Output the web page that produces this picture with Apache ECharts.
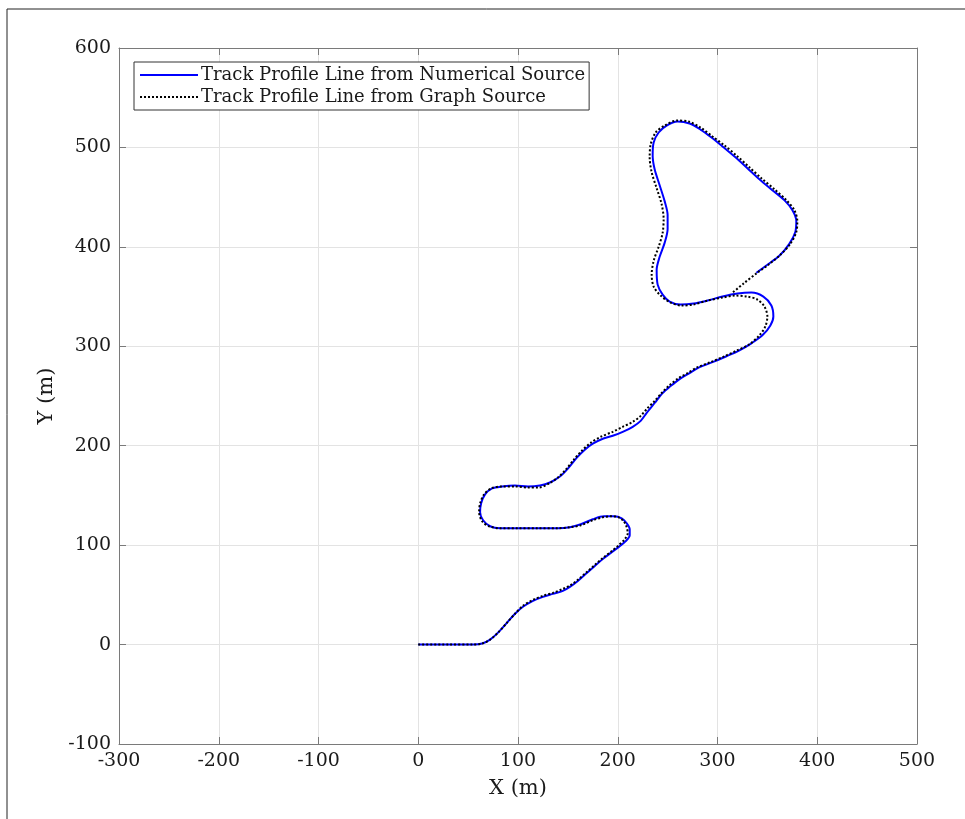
<!DOCTYPE html>
<html>
<head>
<meta charset="utf-8">
<script src="https://cdn.jsdelivr.net/npm/echarts@6/dist/echarts.min.js"></script>
<style>
  html, body { margin: 0; padding: 0; background: #fff; }
  #chart { width: 965px; height: 819px; }
</style>
</head>
<body>
<div id="chart"></div>
<script>
// track from numerical source (x, y in metres)
var numX = [0,30,55,64,72,80,89,97,105,115,125,135,145,152,160,169,177,185,194,202,208,212,212,209,204,196,186,175,163,152,140,120,100,82,72,65,62,63,67,74,84,97,110,122,132,142,150,159,167,175,185,195,205,215,223,229,237,245,253,262,272,282,295,309,322,334,345,353,356,354,346,334,320,305,290,276,263,252,245,240,239,242,247,250,250,247,242,237,235,236,241,249,260,272,283,294,305,318,330,342,355,367,375,379,378,372,362,350,339];
var numY = [0,0,0,1,5,12,22,31,38,44,48,51,54,58,64,72,79,86,93,99,104,110,116,122,127,129,129,126,121,118,117,117,117,117,119,125,133,142,151,157,159,160,159,160,163,169,177,188,196,202,207,210,214,219,225,233,243,253,260,267,273,279,284,290,296,303,311,321,330,341,350,354,353,350,346,343,342,345,352,362,377,390,404,418,432,446,462,478,492,505,515,522,526,524,518,510,501,490,479,468,457,447,437,426,415,403,391,382,374];

// track from graph source
var grfX = [0,30,55,64,72,80,89,97,105,115,125,135,145,153,161,169,177,185,194,201,207,210,209,206,201,194,185,175,163,152,140,120,100,82,71,64,61,62,66,73,84,97,110,121,131,140,148,156,164,173,183,195,205,215,223,230,237,244,252,261,270,280,293,307,320,332,342,348,350,347,340,330,318,305,290,276,264,253,243,236,234,236,241,245,246,244,239,234,232,233,238,247,259,271,283,295,307,320,332,344,357,369,377,380,379,373,363,351,340,326,314];
var grfY = [0,0,0,1,5,12,22,31,39,45,49,52,56,60,66,73,80,87,94,100,106,112,118,124,128,129,128,125,120,118,117,117,117,117,119,124,133,142,151,157,159,159,158,158,162,168,176,186,195,203,209,214,219,224,230,238,245,253,261,268,273,279,284,290,296,302,311,320,330,340,347,350,351,349,346,342,341,344,351,360,372,386,400,414,428,443,459,475,490,503,515,522,527,526,520,511,502,491,480,469,458,447,437,426,415,403,392,382,374,363,353];

var xTicks = [-300, 500, 100];   // min, max, step
var yTicks = [-100, 600, 100];

var seriesNames = ['Track Profile Line from Numerical Source', 'Track Profile Line from Graph Source'];

function pairs(xs, ys) {
    var out = [];
    for (var i = 0; i < xs.length; i++) out.push([xs[i], ys[i]]);
    return out;
}

var font = 'DejaVu Serif';
var axisCol = '#7a7a7a';

function makeAxis(ticks, pos, showLabels, name) {
    return {
        type: 'value',
        position: pos,
        min: ticks[0], max: ticks[1], interval: ticks[2],
        name: name || '',
        nameLocation: 'middle',
        nameGap: pos === 'bottom' ? 34 : 61,
        nameTextStyle: { fontFamily: font, fontSize: 21, color: '#1a1a1a' },
        axisLine: { show: true, onZero: false, lineStyle: { color: axisCol, width: 1 } },
        axisTick: { show: true, inside: true, length: 7, lineStyle: { color: axisCol } },
        axisLabel: {
            show: showLabels, margin: 8,
            fontFamily: font, fontSize: 19, color: '#1a1a1a'
        },
        splitLine: { show: showLabels, lineStyle: { color: '#e3e3e3', width: 1 } }
    };
}

var chart = echarts.init(document.getElementById('chart'));
chart.setOption({
    animation: false,
    backgroundColor: '#fff',
    grid: { left: 119, top: 48, width: 798, height: 696 },
    graphic: [{
        type: 'rect', silent: true,
        shape: { x: 7, y: 9, width: 1000, height: 900 },
        style: { fill: 'none', stroke: '#222', lineWidth: 1 }
    }],
    legend: {
        orient: 'vertical',
        left: 134, top: 62,
        data: seriesNames,
        itemWidth: 58, itemHeight: 14, itemGap: 4,
        padding: [4, 4, 4, 5],
        borderColor: '#333', borderWidth: 1,
        backgroundColor: '#fff',
        itemStyle: { opacity: 0 },
        textStyle: { fontFamily: font, fontSize: 18, color: '#1a1a1a', padding: [0, 0, 0, -2] }
    },
    xAxis: [
        makeAxis(xTicks, 'bottom', true, 'X (m)'),
        makeAxis(xTicks, 'top', false)
    ],
    yAxis: [
        makeAxis(yTicks, 'left', true, 'Y (m)'),
        makeAxis(yTicks, 'right', false)
    ],
    series: [
        {
            name: seriesNames[0], type: 'line',
            data: pairs(numX, numY),
            showSymbol: false, symbol: 'none', smooth: 0.3,
            lineStyle: { color: '#0000ff', width: 2 },
            itemStyle: { color: '#0000ff' }, z: 2
        },
        {
            name: seriesNames[1], type: 'line',
            data: pairs(grfX, grfY),
            showSymbol: false, symbol: 'none', smooth: 0.3,
            lineStyle: { color: '#000', width: 2, type: [2, 2] },
            itemStyle: { color: '#000' }, z: 3
        }
    ]
});
</script>
</body>
</html>
